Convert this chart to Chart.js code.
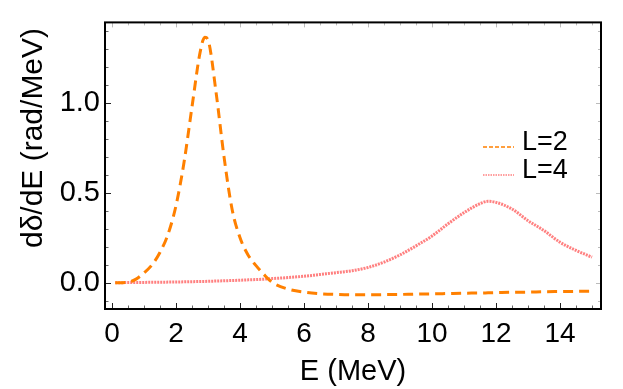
<!DOCTYPE html>
<html>
<head>
<meta charset="utf-8">
<script src="https://cdn.jsdelivr.net/npm/chart.js@4"></script>
<style>
  html, body { margin: 0; padding: 0; background: #fff; }
  #wrap { width: 623px; height: 389px; }
</style>
</head>
<body>
<div id="wrap"><canvas id="chart" width="623" height="389"></canvas></div>
<script>
// energy grid (MeV) and phase-shift derivatives
const energy = [0.1, 0.5, 0.75, 1.0, 1.25, 1.5, 1.75, 2.0, 2.25, 2.5, 2.75, 2.9, 3.0, 3.25, 3.5, 3.75, 4.0, 4.25,
  4.5, 4.75, 5.0, 5.5, 6.0, 6.5, 7.0, 7.5, 8.0, 8.5, 9.0, 9.5, 10.0, 10.5, 11.0, 11.5, 11.75, 12.0,
  12.5, 13.0, 13.5, 14.0, 14.5, 15.0];
const dDeltaL2 = [0.0, 0.003, 0.02, 0.055, 0.10, 0.17, 0.27, 0.43, 0.67, 0.98, 1.28, 1.365, 1.35, 1.06, 0.70, 0.41, 0.25, 0.155,
  0.095, 0.045, 0.003, -0.035, -0.052, -0.061, -0.065, -0.067, -0.067, -0.066, -0.065, -0.063, -0.062, -0.06, -0.058, -0.057, -0.056, -0.055,
  -0.053, -0.052, -0.05, -0.049, -0.048, -0.047];
const dDeltaL4 = [0.0, 0.001, 0.0015, 0.002, 0.0025, 0.003, 0.0035, 0.004, 0.005, 0.006, 0.007, 0.0075, 0.008, 0.0095, 0.011, 0.0125, 0.014, 0.016,
  0.018, 0.02, 0.023, 0.029, 0.036, 0.046, 0.056, 0.067, 0.085, 0.115, 0.155, 0.205, 0.26, 0.328, 0.39, 0.44, 0.453, 0.447,
  0.41, 0.345, 0.29, 0.225, 0.18, 0.142];
const seriesNames = ["L=2", "L=4"];
const xTicks = [0, 2, 4, 6, 8, 10, 12, 14];
const yTicks = [0.0, 0.5, 1.0];

const ORANGE = "rgb(255,128,0)";
const PINK = "rgb(255,128,128)";
const FONT = "'Liberation Sans', Arial, sans-serif";

function points(ys) {
  return energy.map((e, i) => ({ x: e, y: ys[i] }));
}

// frame, inward ticks, y title and legend (Mathematica style)
const framePlugin = {
  id: "frame",
  afterDraw(chart) {
    const ctx = chart.ctx;
    const a = chart.chartArea;
    const xs = chart.scales.x;
    const ys = chart.scales.y;
    ctx.save();

    // ticks along x
    for (let v = 0; v <= 15; v += 0.5) {
      const px = Math.round(xs.getPixelForValue(v)) + 0.5;
      const major = v % 2 === 0;
      const len = major ? 6 : 3.5;
      ctx.strokeStyle = major ? "#222" : "#666";
      ctx.lineWidth = 1;
      ctx.beginPath();
      ctx.moveTo(px, a.bottom);
      ctx.lineTo(px, a.bottom - len);
      ctx.stroke();
      ctx.strokeStyle = "#bbb";
      ctx.beginPath();
      ctx.moveTo(px, a.top);
      ctx.lineTo(px, a.top + (major ? 5 : 3));
      ctx.stroke();
    }
    // ticks along y
    for (let k = -1; k <= 14; k++) {
      const v = k / 10;
      const py = Math.round(ys.getPixelForValue(v)) + 0.5;
      const major = k % 5 === 0;
      const len = major ? 6 : 3.5;
      ctx.strokeStyle = major ? "#222" : "#666";
      ctx.lineWidth = 1;
      ctx.beginPath();
      ctx.moveTo(a.left, py);
      ctx.lineTo(a.left + len, py);
      ctx.stroke();
      ctx.strokeStyle = "#bbb";
      ctx.beginPath();
      ctx.moveTo(a.right, py);
      ctx.lineTo(a.right - (major ? 5 : 3), py);
      ctx.stroke();
    }

    // frame
    ctx.strokeStyle = "#000";
    ctx.lineWidth = 2;
    ctx.strokeRect(a.left, a.top, a.right - a.left, a.bottom - a.top);

    // y axis title (sits above centre, as in the original)
    ctx.save();
    ctx.translate(34, 138);
    ctx.rotate(-Math.PI / 2);
    ctx.font = "30px " + FONT;
    ctx.fillStyle = "#000";
    ctx.textAlign = "center";
    ctx.textBaseline = "middle";
    ctx.fillText("dδ/dE (rad/MeV)", 0, 0);
    ctx.restore();

    // legend
    const lx0 = 483, lx1 = 514, tx = 522;
    const rows = [
      { name: seriesNames[0], color: ORANGE, dash: [4, 2], width: 1.6, y: 147 },
      { name: seriesNames[1], color: PINK, dash: [1.5, 1], width: 1.6, y: 175 }
    ];
    ctx.font = "27px " + FONT;
    ctx.fillStyle = "#000";
    ctx.textBaseline = "middle";
    rows.forEach(r => {
      ctx.strokeStyle = r.color;
      ctx.lineWidth = r.width;
      ctx.setLineDash(r.dash);
      ctx.beginPath();
      ctx.moveTo(lx0, r.y);
      ctx.lineTo(lx1, r.y);
      ctx.stroke();
      ctx.setLineDash([]);
      ctx.fillText(r.name, tx, r.y - 4);
    });
    ctx.restore();
  }
};

new Chart(document.getElementById("chart"), {
  type: "line",
  data: {
    datasets: [
      {
        label: seriesNames[0],
        data: points(dDeltaL2),
        borderColor: ORANGE,
        borderWidth: 3,
        borderDash: [10, 6],
        pointRadius: 0,
        fill: false,
        cubicInterpolationMode: "monotone"
      },
      {
        label: seriesNames[1],
        data: points(dDeltaL4),
        borderColor: PINK,
        borderWidth: 3,
        borderDash: [2, 1],
        pointRadius: 0,
        fill: false,
        cubicInterpolationMode: "monotone"
      }
    ]
  },
  options: {
    responsive: false,
    animation: false,
    layout: { padding: { left: 0, top: 3, right: 22, bottom: 0 } },
    plugins: { legend: { display: false }, tooltip: { enabled: false } },
    scales: {
      x: {
        type: "linear",
        min: -0.22,
        max: 15.28,
        afterBuildTicks: s => { s.ticks = xTicks.map(v => ({ value: v })); },
        afterFit: s => { s.height = 80; },
        grid: { display: false, drawTicks: false },
        border: { display: false },
        ticks: { color: "#000", font: { family: FONT, size: 28 }, padding: 8, maxRotation: 0 },
        title: { display: true, text: "E (MeV)", color: "#000", font: { family: FONT, size: 29 }, padding: { top: 0, bottom: 0 } }
      },
      y: {
        min: -0.146,
        max: 1.448,
        afterBuildTicks: s => { s.ticks = yTicks.map(v => ({ value: v })); },
        afterFit: s => { s.width = 105; },
        grid: { display: false, drawTicks: false },
        border: { display: false },
        ticks: { color: "#000", font: { family: FONT, size: 29 }, padding: 5, callback: v => v.toFixed(1) },
        title: { display: false }
      }
    }
  },
  plugins: [framePlugin]
});
</script>
</body>
</html>
